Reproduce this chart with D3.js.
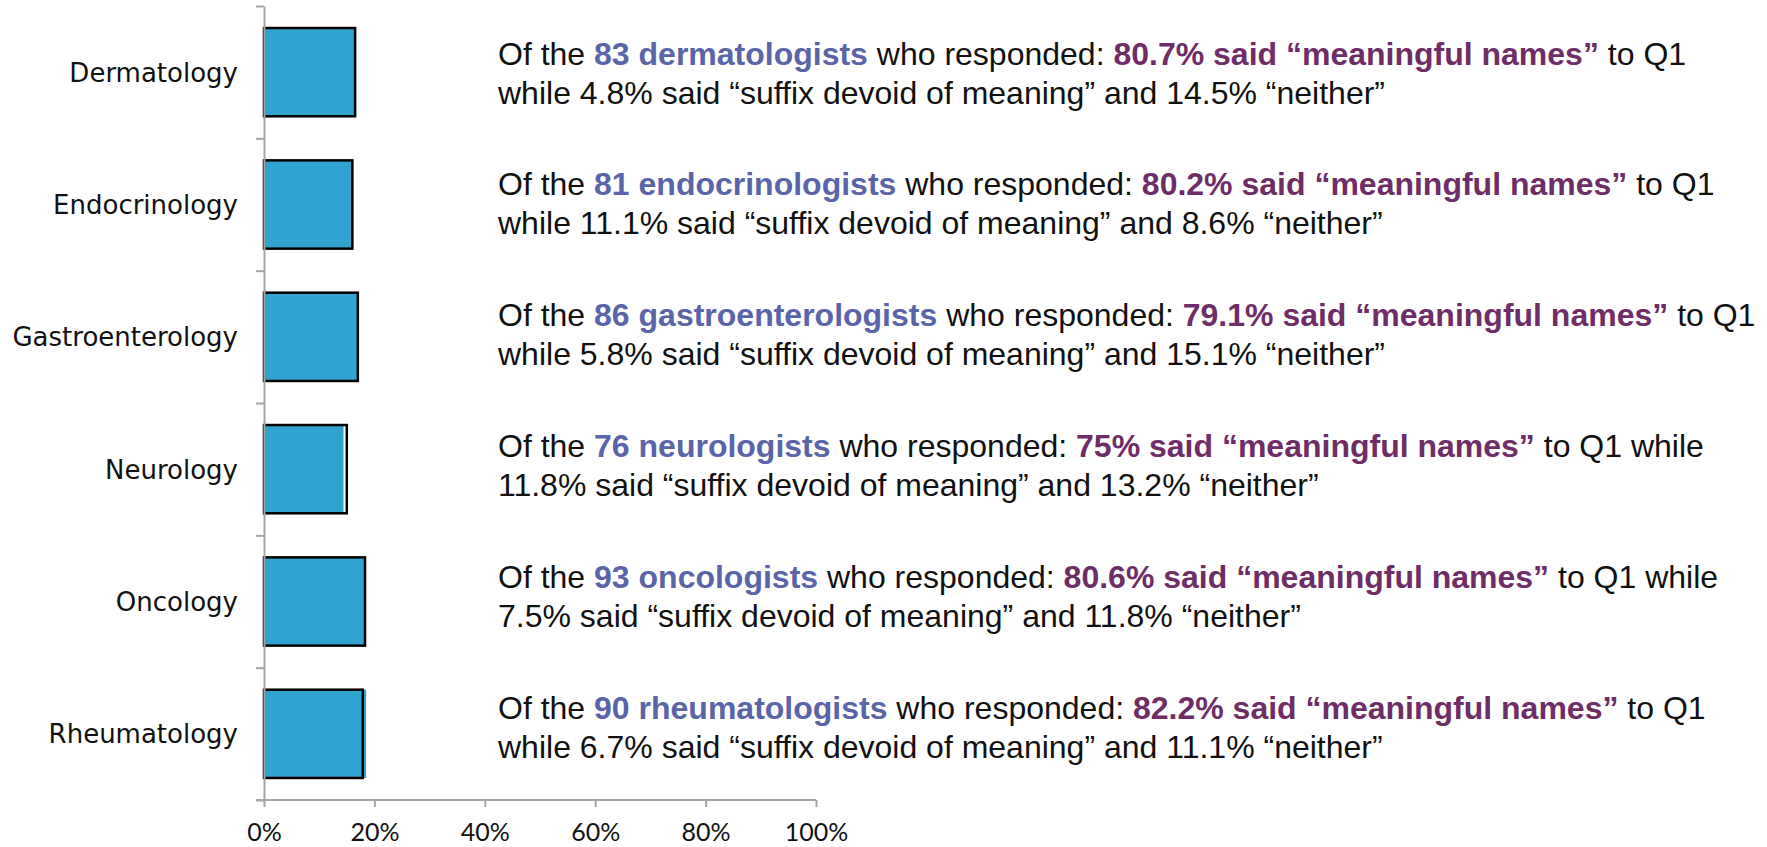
<!DOCTYPE html>
<html>
<head>
<meta charset="utf-8">
<script src="https://cdn.jsdelivr.net/npm/d3@7"></script>
<style>
  body { margin: 0; background: #fff; }
  .cat { font-family: "DejaVu Sans", sans-serif; font-size: 26px; fill: #111; }
  .tick text { font-family: Lato, "Noto Sans", sans-serif; font-size: 25px; fill: #111; }
  .note { font-family: "Liberation Sans", Arial, sans-serif; font-size: 32px; fill: #111; }
</style>
</head>
<body>
<script>
// Chart data
var categories = ["Dermatology", "Endocrinology", "Gastroenterology", "Neurology", "Oncology", "Rheumatology"];
var barValues = [0.167, 0.162, 0.170, 0.144, 0.183, 0.185];     // blue fill
var outlineValues = [0.165, 0.160, 0.170, 0.150, 0.183, 0.179]; // black box
var xTicks = [0, 0.2, 0.4, 0.6, 0.8, 1.0];

// annotation text
var respondents = [83, 81, 86, 76, 93, 90];
var specialists = ["dermatologists", "endocrinologists", "gastroenterologists", "neurologists", "oncologists", "rheumatologists"];
var meaningful = ["80.7", "80.2", "79.1", "75", "80.6", "82.2"];
var suffix = ["4.8", "11.1", "5.8", "11.8", "7.5", "6.7"];
var neither = ["14.5", "8.6", "15.1", "13.2", "11.8", "11.1"];
var whileOnFirst = [false, false, false, true, true, false];

var svgWidth = 1767;
var svgHeight = 847;

var svg = d3.select("body")
  .append("svg")
  .attr("width", svgWidth)
  .attr("height", svgHeight);

// scales
var xScale = d3.scaleLinear().domain([0, 1]).range([264, 816]);
var yScale = d3.scaleBand().domain(categories).range([6, 800]).paddingInner(0.333).paddingOuter(0.1665);
var yEdge = d3.scaleLinear().domain([0, categories.length]).range([6, 800]);
var textY = d3.scalePoint().domain(categories).range([64.5, 719]);

var rows = categories.map(function(c, i) {
  return { cat: c, bar: barValues[i], box: outlineValues[i] };
});

// blue bars
svg.selectAll("rect.bar").data(rows).enter()
  .append("rect")
  .attr("class", "bar")
  .attr("x", xScale(0))
  .attr("y", d => yScale(d.cat))
  .attr("width", d => xScale(d.bar) - xScale(0))
  .attr("height", yScale.bandwidth())
  .attr("fill", "#31a3d0");

// black outline boxes
svg.selectAll("rect.box").data(rows).enter()
  .append("rect")
  .attr("class", "box")
  .attr("x", xScale(0))
  .attr("y", d => yScale(d.cat))
  .attr("width", d => xScale(d.box) - xScale(0))
  .attr("height", yScale.bandwidth())
  .attr("fill", "none")
  .attr("stroke", "#000")
  .attr("stroke-width", 2.5);

// y axis: line with ticks at the band edges
var axisColor = "#a5a5a5";
var yAxis = svg.append("g")
  .attr("transform", `translate(${xScale(0)},0)`)
  .call(d3.axisLeft(yEdge).ticks(categories.length).tickFormat("").tickSize(8).tickSizeOuter(0));
yAxis.select(".domain").attr("stroke", axisColor).attr("stroke-width", 2);
yAxis.selectAll(".tick line").attr("stroke", axisColor).attr("stroke-width", 2);

// x axis
var xAxis = svg.append("g")
  .attr("transform", `translate(0,${yEdge(categories.length)})`)
  .call(d3.axisBottom(xScale).tickValues(xTicks).tickFormat(d3.format(".0%")).tickSize(7).tickSizeOuter(0));
xAxis.select(".domain").attr("stroke", axisColor).attr("stroke-width", 2)
  .attr("d", `M${xScale(0) - 8},0H${xScale(1)}`);
xAxis.selectAll(".tick line").attr("stroke", axisColor).attr("stroke-width", 2);
xAxis.selectAll(".tick text")
  .attr("y", 41)
  .attr("dy", 0)
  .attr("fill", "#111");

// category labels
svg.selectAll("text.label").data(categories).enter()
  .append("text")
  .attr("class", "cat")
  .attr("x", 238)
  .attr("y", d => yScale(d) + yScale.bandwidth() / 2)
  .attr("dy", "0.36em")
  .attr("text-anchor", "end")
  .text(d => d);

// notes on the right
var blue = "#5a64a8";
var purple = "#6e2d66";
categories.forEach(function(c, i) {
  var y0 = textY(c);
  var t1 = svg.append("text").attr("class", "note").attr("x", 498).attr("y", y0);
  t1.append("tspan").text("Of the ");
  t1.append("tspan").attr("font-weight", "bold").attr("fill", blue)
    .text(respondents[i] + " " + specialists[i]);
  t1.append("tspan").text(" who responded: ");
  t1.append("tspan").attr("font-weight", "bold").attr("fill", purple)
    .text(meaningful[i] + "% said \u201cmeaningful names\u201d");
  t1.append("tspan").text(" to Q1" + (whileOnFirst[i] ? " while" : ""));

  svg.append("text").attr("class", "note").attr("x", 498).attr("y", y0 + 39)
    .text((whileOnFirst[i] ? "" : "while ") + suffix[i] + "% said \u201csuffix devoid of meaning\u201d and " +
      neither[i] + "% \u201cneither\u201d");
});
</script>
</body>
</html>
